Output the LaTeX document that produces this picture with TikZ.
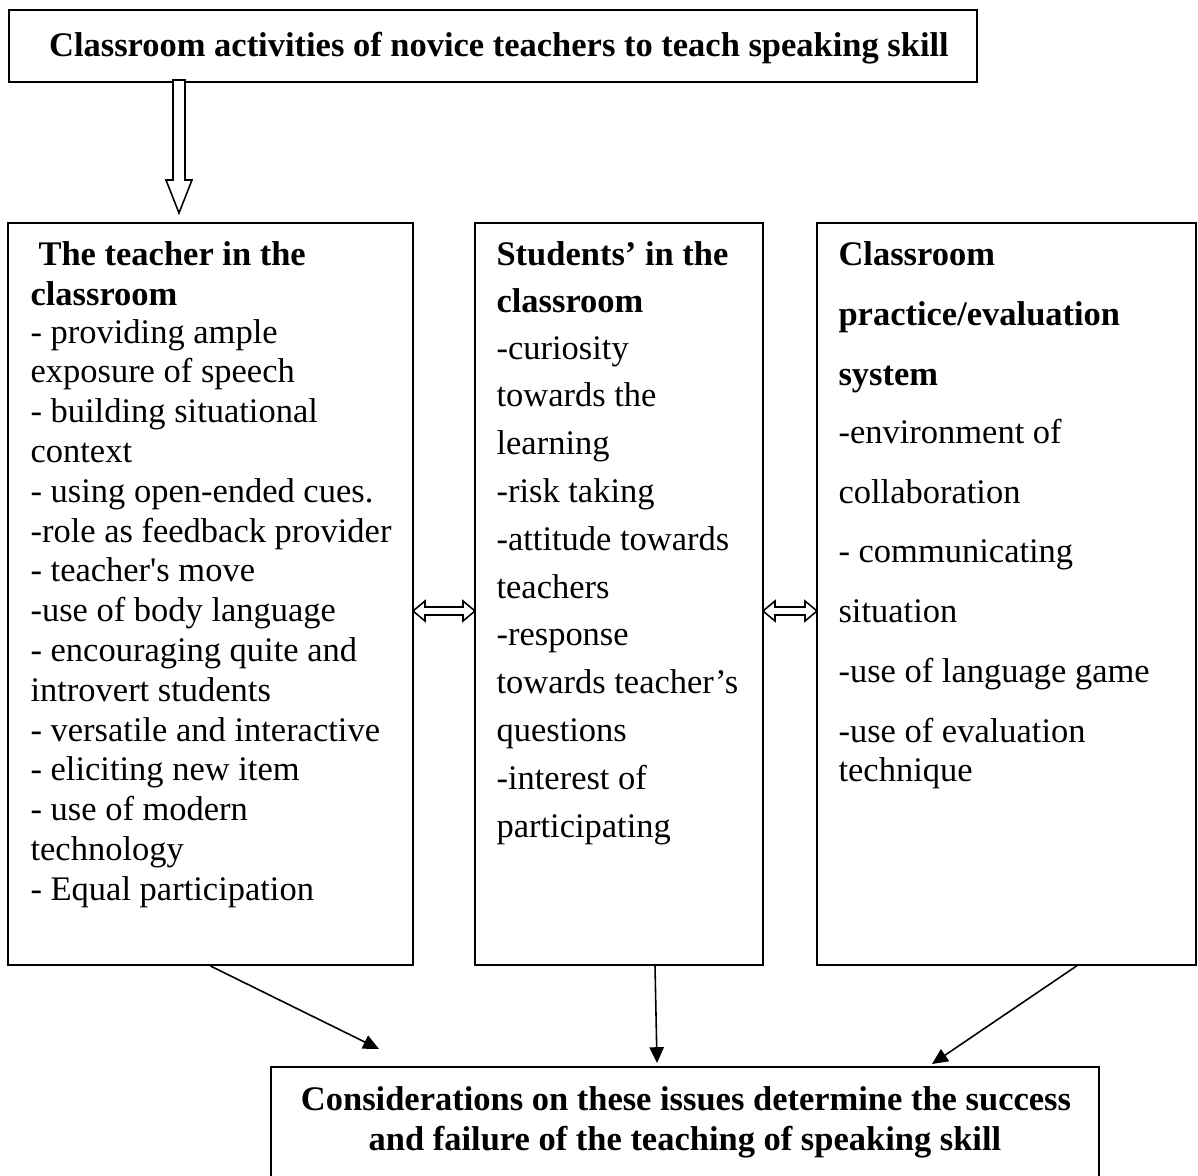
\documentclass[tikz,border=0pt]{standalone}
\usepackage{fontspec}
\setmainfont{Liberation Serif}
\usetikzlibrary{fit,arrows.meta}
\newcommand\hollowdbl[3]{%
  \draw[hol] (#1,#3) -- (#1+12,#3-10) -- (#1+12,#3-4) -- (#2-12,#3-4) -- (#2-12,#3-10)
    -- (#2,#3) -- (#2-12,#3+10) -- (#2-12,#3+4) -- (#1+12,#3+4) -- (#1+12,#3+10) -- cycle;}
\begin{document}
\begin{tikzpicture}[x=0.348pt,y=-0.348pt,
  box/.style={draw, line width=0.7pt, inner sep=0pt},
  ln/.style={anchor=base west, inner sep=0pt, font=\fontsize{12}{14}\selectfont},
  hd/.style={anchor=base west, inner sep=0pt, font=\fontsize{12}{14}\selectfont\bfseries},
  con/.style={line width=0.55pt, -{Triangle[length=5.5pt,width=5pt]}},
  hol/.style={line width=0.55pt, fill=white}]
\useasboundingbox (0,0) rectangle (1198,1176);
\clip (0,0) rectangle (1198,1176);

% boxes
\node[box, fit={(9,10) (977,82)}] (top) {};
\node[box, fit={(8,223) (413,965)}] (teacher) {};
\node[box, fit={(475,223) (763,965)}] (students) {};
\node[box, fit={(817,223) (1196,965)}] (practice) {};
\node[box, fit={(271,1067) (1099,1240)}] (result) {};

% top text
\node[hd, anchor=base] (toptxt) at (499,56) {Classroom activities of novice teachers to teach speaking skill};

% hollow down arrow
\draw[hol] (173,80) -- (173,180) -- (166,180) -- (179,213) -- (192,180) -- (185,180) -- (185,80) -- cycle;

% teacher box
\node[hd] (t1) at (38,265) {The teacher in the};
\node[hd] (t2) at (30,305) {classroom};
\foreach \s [count=\i from 0] in {- providing ample, exposure of speech, - building situational, context,
  - using open-ended cues., -role as feedback provider, - teacher\textquotesingle s move, -use of body language,
  - encouraging quite and, introvert students, - versatile and interactive, - eliciting new item,
  - use of modern, technology, - Equal participation}
  \node[ln] (tl\i) at (30,343+39.8*\i) {\s};

% students box
\node[hd] (s1) at (496,265) {Students’ in the};
\node[hd] (s2) at (496,312) {classroom};
\foreach \s [count=\i from 0] in {-curiosity, towards the, learning, -risk taking, -attitude towards,
  teachers, -response, towards teacher’s, questions, -interest of, participating}
  \node[ln] (sl\i) at (496,359+47.8*\i) {\s};

% practice box
\node[hd] (p1) at (838,265) {Classroom};
\node[hd] (p2) at (838,325) {practice/evaluation};
\node[hd] (p3) at (838,385) {system};
\node[ln] (pl1) at (838,443) {-environment of};
\node[ln] (pl2) at (838,503) {collaboration};
\node[ln] (pl3) at (838,562) {- communicating};
\node[ln] (pl4) at (838,622) {situation};
\node[ln] (pl5) at (838,682) {-use of language game};
\node[ln] (pl6) at (838,742) {-use of evaluation};
\node[ln] (pl7) at (838,781) {technique};

% hollow double arrows
\hollowdbl{413}{475}{611}
\hollowdbl{763}{817}{611}

% result text
\node[hd, anchor=base] (r1) at (686,1110) {Considerations on these issues determine the success};
\node[hd, anchor=base] (r2) at (685,1150) {and failure of the teaching of speaking skill};

% connectors
\coordinate (sA) at (655,965);
\coordinate (pA) at (1078,965);
\coordinate (eT) at (379,1049);
\coordinate (eS) at (657,1063);
\coordinate (eP) at (932,1064);
\draw[con] (teacher.south) -- (eT);
\draw[con] (sA) -- (eS);
\draw[con] (pA) -- (eP);
\end{tikzpicture}
\end{document}
